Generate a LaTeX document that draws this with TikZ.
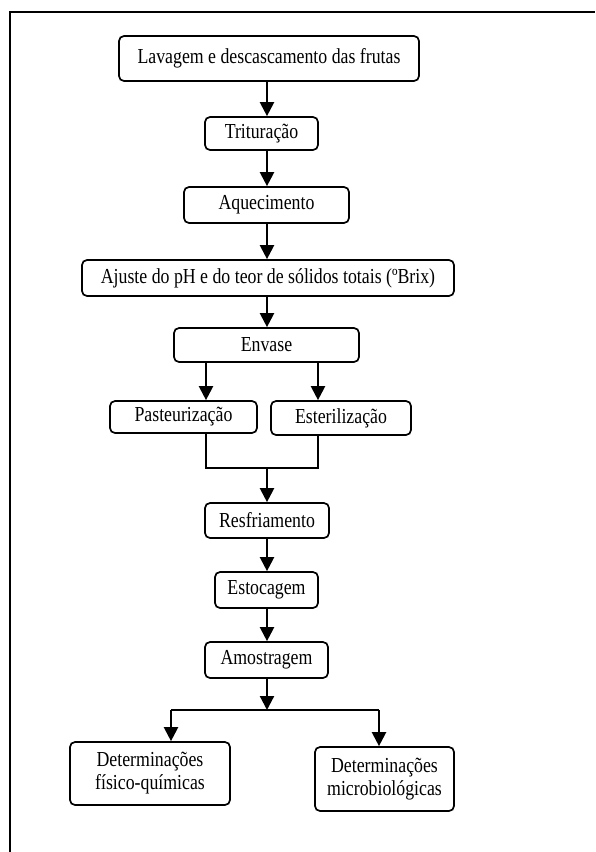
\documentclass[tikz,border=0pt]{standalone}
\usepackage{fontspec}
\usepackage{graphicx}
\setmainfont{Liberation Serif}
\usetikzlibrary{arrows.meta,calc}
\newcommand{\vsc}[1]{\scalebox{1}[1.2]{#1}}
\begin{document}
\begin{tikzpicture}[x=1pt,y=-1pt,
  box/.style={draw,line width=1.7pt,rounded corners=5pt,inner sep=0pt,
    font=\fontsize{17.8}{23}\selectfont,align=center},
  arr/.style={line width=2.2pt,-{Triangle[length=14pt,width=14pt]}},
  ln/.style={line width=1.7pt}]
\useasboundingbox (0,0) rectangle (595,852);
\draw[line width=2.2pt] (10,852) -- (10,12) -- (595,12);
\coordinate (c) at (267,0);
\coordinate (cl) at (206,0);
\coordinate (cr) at (318,0);
\coordinate (m) at (267,468);
\coordinate (m2) at (267,710);
\coordinate (ml) at (171,710);
\coordinate (mr) at (379,710);
\node[box,minimum width=300pt,minimum height=45pt] (b1) at (269,58.5) {\vsc{Lavagem e descascamento das frutas}};
\node[box,minimum width=113pt,minimum height=33pt] (b2) at (261.5,133.5) {\vsc{Trituração}};
\node[box,minimum width=165pt,minimum height=36pt] (b3) at (266.5,205) {\vsc{Aquecimento}};
\node[box,minimum width=372pt,minimum height=36pt] (b4) at (268,278) {\vsc{Ajuste do pH e do teor de sólidos totais (ºBrix)}};
\node[box,minimum width=185pt,minimum height=34pt] (b5) at (266.5,345) {\vsc{Envase}};
\node[box,minimum width=147pt,minimum height=32pt] (p) at (183.5,417) {\vsc{Pasteurização}};
\node[box,minimum width=140pt,minimum height=34pt] (e) at (341,418) {\vsc{Esterilização}};
\node[box,minimum width=124pt,minimum height=35pt] (r) at (267,520.5) {\vsc{Resfriamento}};
\node[box,minimum width=103pt,minimum height=36pt] (s) at (266.5,590) {\vsc{Estocagem}};
\node[box,minimum width=123pt,minimum height=36pt] (a) at (266.5,660) {\vsc{Amostragem}};
\node[box,minimum width=160pt,minimum height=63pt] (d1) at (150,773.5) {\vsc{Determinações}\\\vsc{físico-químicas}};
\node[box,minimum width=139pt,minimum height=64pt] (d2) at (384.5,779) {\vsc{Determinações}\\\vsc{microbiológicas}};
\draw[arr] (b1.south -| c) -- (b2.north -| c);
\draw[arr] (b2.south -| c) -- (b3.north -| c);
\draw[arr] (b3.south -| c) -- (b4.north -| c);
\draw[arr] (b4.south -| c) -- (b5.north -| c);
\draw[arr] (b5.south -| cl) -- (p.north -| cl);
\draw[arr] (b5.south -| cr) -- (e.north -| cr);
\draw[ln] (p.south -| cl) -- (cl |- m) -- (cr |- m) -- (e.south -| cr);
\draw[arr] (m) -- (r.north -| c);
\draw[arr] (r.south -| c) -- (s.north -| c);
\draw[arr] (s.south -| c) -- (a.north -| c);
\draw[arr] (a.south -| c) -- (m2);
\draw[ln] (ml) -- (mr);
\draw[arr] (ml) -- (d1.north -| ml);
\draw[arr] (mr) -- (d2.north -| mr);
\end{tikzpicture}
\end{document}
